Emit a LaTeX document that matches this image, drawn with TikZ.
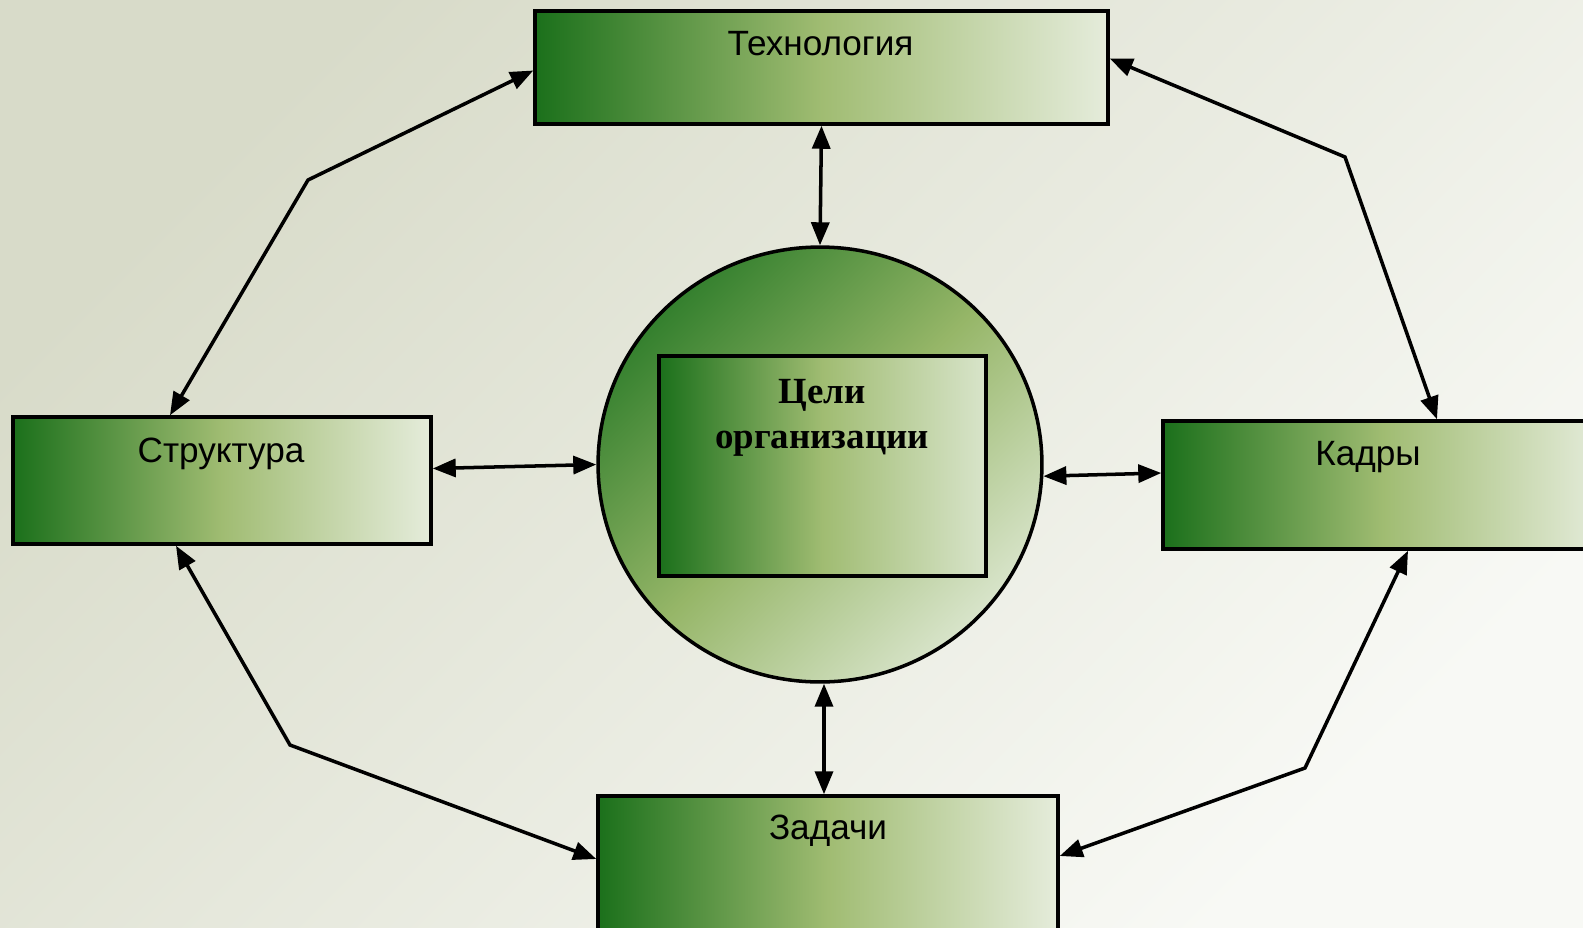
\documentclass[tikz,border=0pt]{standalone}
\usepackage{fontspec}
\setmainfont{Liberation Sans}
\newfontfamily\goalfont{Liberation Serif}
\usetikzlibrary{arrows.meta,calc,shapes.geometric}

\definecolor{bgtop}{RGB}{216,219,201}
\definecolor{bgbot}{RGB}{248,249,245}
\definecolor{gdark}{RGB}{27,112,27}
\definecolor{gmid}{RGB}{160,188,114}
\definecolor{glight}{RGB}{229,236,219}
\definecolor{cdark}{RGB}{52,128,46}
\definecolor{cmid}{RGB}{150,182,104}
\definecolor{clight}{RGB}{216,228,202}

\tikzset{box/.style={rectangle,draw=black,line width=2pt,inner sep=0pt,left color=gdark,right color=glight,middle color=gmid},
box label/.style={font=\fontsize{20}{24}\selectfont,anchor=base,inner sep=0pt},
goal circle/.style={ellipse,draw=black,line width=2pt,inner sep=0pt,top color=cdark,bottom color=clight,middle color=cmid,shading angle=45},
goal label/.style={font=\goalfont\bfseries\fontsize{21}{25}\selectfont,anchor=base,inner sep=0pt},
link/.style={line width=2pt,{Triangle[length=0.46cm,width=0.36cm]}-{Triangle[length=0.46cm,width=0.36cm]}}}

\begin{document}
\begin{tikzpicture}[x=0.02cm,y=-0.02cm]
\useasboundingbox (0,0) rectangle (1583,927);
\clip (0,0) rectangle (1583,927);
\shade [top color=bgtop,bottom color=bgbot,shading angle=45] (0,0) rectangle (1583,927);

%% Coordinates of nodes.
\coordinate (c-tech) at (821.5,67.5);
\coordinate (c-struct) at (222,480.5);
\coordinate (c-staff) at (1383,485);
\coordinate (c-tasks) at (828,871);
\coordinate (c-goal) at (820,464.5);
\coordinate (c-goalbox) at (822.5,466);

%% bends of the outer links
\coordinate (b-nw) at (308,180);
\coordinate (b-ne) at (1345,157);
\coordinate (b-sw) at (290,745);
\coordinate (b-se) at (1305,768);

%% boxes
\node [box,minimum width=11.46cm,minimum height=2.26cm] (tech) at (c-tech) {};
\node [box,minimum width=8.36cm,minimum height=2.54cm] (struct) at (c-struct) {};
\node [box,minimum width=8.8cm,minimum height=2.56cm] (staff) at (c-staff) {};
\node [box,minimum width=9.2cm,minimum height=3cm] (tasks) at (c-tasks) {};
\node [goal circle,minimum width=8.88cm,minimum height=8.7cm] (goal) at (c-goal) {};
\node [box,minimum width=6.54cm,minimum height=4.4cm,right color=clight,middle color=gmid] (goalbox) at (c-goalbox) {};

%% box labels
\node [box label] (l-tech) at (820.5,55) {Технология};
\node [box label] (l-struct) at (221,462) {Структура};
\node [box label] (l-staff) at (1368,465) {Кадры};
\node [box label] (l-tasks) at (828,839) {Задачи};
\node [goal label] (l-goal1) at (822,403) {Цели};
\node [goal label] (l-goal2) at (822,448) {организации};

%% links to the centre
\draw [link] (tech.south) -- (goal.north);
\draw [link] ($(struct.east)+(0,-12)$) -- (goal.west);
\draw [link] (goal.-3) -- ($(staff.west)+(0,-12)$);
\draw [link] ($(goal.south)+(4,0)$) -- ($(tasks.north)+(-4,0)$);

%% outer links
\draw [link] ($(struct.north)+(-52,0)$) -- (b-nw) -- ($(tech.west)+(0,3)$);
\draw [link] ($(tech.east)+(0,-9)$) -- (b-ne) -- ($(staff.north)+(54,0)$);
\draw [link] ($(struct.south)+(-46,0)$) -- (b-sw) -- ($(tasks.west)+(0,-12)$);
\draw [link] ($(staff.south)+(25,0)$) -- (b-se) -- ($(tasks.east)+(0,-15)$);

\end{tikzpicture}
\end{document}
